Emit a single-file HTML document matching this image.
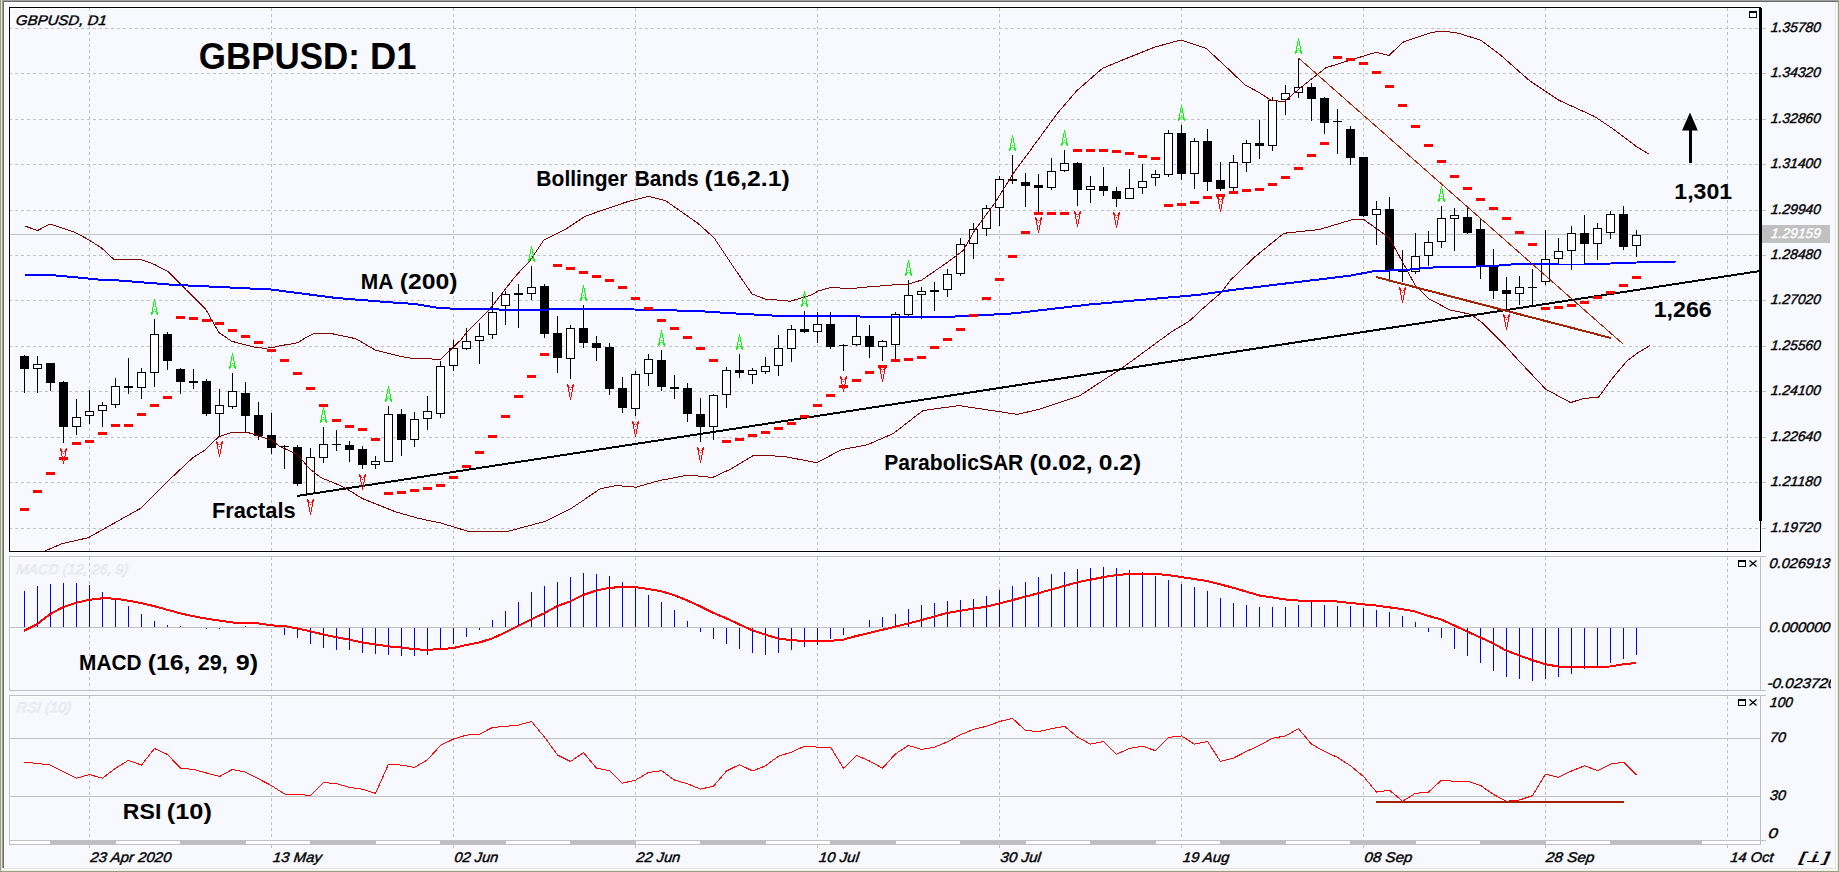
<!DOCTYPE html><html><head><meta charset="utf-8"><style>html,body{margin:0;padding:0;background:#F8F8FF;overflow:hidden}svg{display:block}</style></head><body><svg width="1839" height="872" viewBox="0 0 1839 872"><rect x="0" y="0" width="1839" height="872" fill="#F8F8FF"/><rect x="0" y="0" width="1" height="872" fill="#9D9D86"/><rect x="1" y="0" width="1" height="871" fill="#E3E3D5"/><rect x="2" y="0" width="1837" height="1" fill="#A0A0A0"/><rect x="2" y="0" width="1" height="868" fill="#A0A0A0"/><rect x="3" y="1" width="1836" height="1" fill="#696969"/><rect x="3" y="1" width="1" height="867" fill="#696969"/><rect x="4" y="2" width="1831" height="1" fill="#FFFFFF"/><rect x="4" y="2" width="1" height="866" fill="#FFFFFF"/><rect x="3" y="868" width="1833" height="1" fill="#E0E0E0"/><rect x="1835" y="2" width="1" height="867" fill="#E4E4E4"/><rect x="2" y="869" width="1835" height="1" fill="#FFFFFF"/><rect x="1836" y="2" width="1" height="868" fill="#FFFFFF"/><rect x="1" y="870" width="1837" height="1" fill="#EEEEE0"/><rect x="1837" y="2" width="1" height="869" fill="#EEEEE0"/><rect x="0" y="871" width="1839" height="1" fill="#9D9D86"/><rect x="1838" y="0" width="1" height="872" fill="#9D9D86"/><rect x="8.5" y="6.5" width="1753" height="546" fill="none" stroke="#FFFFFF"/><rect x="9.5" y="7.5" width="1751" height="544" fill="none" stroke="#000"/><rect x="10.5" y="8.5" width="1749" height="542" fill="none" stroke="#FFFFFF"/><path d="M10 28.5H1759 M10 73.5H1759 M10 119.5H1759 M10 164.5H1759 M10 210.5H1759 M10 255.5H1759 M10 300.5H1759 M10 346.5H1759 M10 391.5H1759 M10 437.5H1759 M10 482.5H1759 M10 528.5H1759" stroke="#C0C0C0" stroke-width="1" stroke-dasharray="3 3" stroke-dashoffset="1" fill="none" shape-rendering="crispEdges"/><path d="M89.5 8V551 M271.5 8V551 M453.5 8V551 M635.5 8V551 M817.5 8V551 M999.5 8V551 M1181.5 8V551 M1363.5 8V551 M1545.5 8V551 M1727.5 8V551" stroke="#C0C0C0" stroke-width="1" stroke-dasharray="3 3" fill="none" shape-rendering="crispEdges"/><path d="M1762 28.5H1766 M1762 73.5H1766 M1762 119.5H1766 M1762 164.5H1766 M1762 210.5H1766 M1762 255.5H1766 M1762 300.5H1766 M1762 346.5H1766 M1762 391.5H1766 M1762 437.5H1766 M1762 482.5H1766 M1762 528.5H1766" stroke="#C0C0C0" shape-rendering="crispEdges"/><rect x="10" y="234" width="1750" height="1" fill="#C0C0C0"/><defs><clipPath id="cm"><rect x="10" y="8" width="1750" height="543"/></clipPath><clipPath id="cd"><rect x="10" y="557" width="1750" height="133"/></clipPath><clipPath id="cr"><rect x="10" y="696" width="1750" height="144"/></clipPath><clipPath id="ca"><rect x="0" y="0" width="1831" height="872"/></clipPath></defs><g clip-path="url(#cm)"><g fill="#000" shape-rendering="crispEdges"><rect x="24" y="355" width="1" height="38"/><rect x="20" y="356" width="9" height="13"/><rect x="37" y="356" width="1" height="37"/><rect x="33" y="364" width="9" height="5"/><rect x="34" y="365" width="7" height="3" fill="#FFF"/><rect x="50" y="363" width="1" height="28"/><rect x="46" y="363" width="9" height="20"/><rect x="63" y="381" width="1" height="62"/><rect x="59" y="382" width="9" height="45"/><rect x="76" y="399" width="1" height="36"/><rect x="72" y="417" width="9" height="10"/><rect x="73" y="418" width="7" height="8" fill="#FFF"/><rect x="89" y="390" width="1" height="34"/><rect x="85" y="411" width="9" height="5"/><rect x="86" y="412" width="7" height="3" fill="#FFF"/><rect x="102" y="402" width="1" height="25"/><rect x="98" y="405" width="9" height="6"/><rect x="99" y="406" width="7" height="4" fill="#FFF"/><rect x="115" y="378" width="1" height="30"/><rect x="111" y="386" width="9" height="19"/><rect x="112" y="387" width="7" height="17" fill="#FFF"/><rect x="128" y="358" width="1" height="36"/><rect x="124" y="386" width="9" height="2"/><rect x="141" y="368" width="1" height="31"/><rect x="137" y="372" width="9" height="16"/><rect x="138" y="373" width="7" height="14" fill="#FFF"/><rect x="154" y="319" width="1" height="68"/><rect x="150" y="334" width="9" height="39"/><rect x="151" y="335" width="7" height="37" fill="#FFF"/><rect x="167" y="332" width="1" height="38"/><rect x="163" y="334" width="9" height="27"/><rect x="180" y="368" width="1" height="26"/><rect x="176" y="369" width="9" height="13"/><rect x="193" y="369" width="1" height="20"/><rect x="189" y="381" width="9" height="2"/><rect x="206" y="379" width="1" height="37"/><rect x="202" y="381" width="9" height="33"/><rect x="219" y="389" width="1" height="47"/><rect x="215" y="405" width="9" height="9"/><rect x="216" y="406" width="7" height="7" fill="#FFF"/><rect x="232" y="373" width="1" height="36"/><rect x="228" y="391" width="9" height="16"/><rect x="229" y="392" width="7" height="14" fill="#FFF"/><rect x="245" y="382" width="1" height="50"/><rect x="241" y="393" width="9" height="23"/><rect x="258" y="402" width="1" height="38"/><rect x="254" y="415" width="9" height="21"/><rect x="271" y="413" width="1" height="41"/><rect x="267" y="435" width="9" height="13"/><rect x="284" y="445" width="1" height="24"/><rect x="280" y="446" width="9" height="1"/><rect x="297" y="445" width="1" height="41"/><rect x="293" y="447" width="9" height="37"/><rect x="310" y="448" width="1" height="46"/><rect x="306" y="457" width="9" height="37"/><rect x="307" y="458" width="7" height="35" fill="#FFF"/><rect x="323" y="427" width="1" height="36"/><rect x="319" y="444" width="9" height="14"/><rect x="320" y="445" width="7" height="12" fill="#FFF"/><rect x="336" y="430" width="1" height="21"/><rect x="332" y="444" width="9" height="1"/><rect x="349" y="441" width="1" height="21"/><rect x="345" y="445" width="9" height="5"/><rect x="362" y="446" width="1" height="23"/><rect x="358" y="449" width="9" height="16"/><rect x="375" y="456" width="1" height="13"/><rect x="371" y="461" width="9" height="4"/><rect x="372" y="462" width="7" height="2" fill="#FFF"/><rect x="388" y="406" width="1" height="56"/><rect x="384" y="414" width="9" height="48"/><rect x="385" y="415" width="7" height="46" fill="#FFF"/><rect x="401" y="409" width="1" height="47"/><rect x="397" y="414" width="9" height="26"/><rect x="414" y="412" width="1" height="35"/><rect x="410" y="419" width="9" height="21"/><rect x="411" y="420" width="7" height="19" fill="#FFF"/><rect x="427" y="396" width="1" height="34"/><rect x="423" y="411" width="9" height="8"/><rect x="424" y="412" width="7" height="6" fill="#FFF"/><rect x="440" y="361" width="1" height="57"/><rect x="436" y="366" width="9" height="48"/><rect x="437" y="367" width="7" height="46" fill="#FFF"/><rect x="453" y="340" width="1" height="31"/><rect x="449" y="348" width="9" height="18"/><rect x="450" y="349" width="7" height="16" fill="#FFF"/><rect x="466" y="328" width="1" height="22"/><rect x="462" y="341" width="9" height="8"/><rect x="463" y="342" width="7" height="6" fill="#FFF"/><rect x="479" y="323" width="1" height="41"/><rect x="475" y="336" width="9" height="5"/><rect x="476" y="337" width="7" height="3" fill="#FFF"/><rect x="492" y="292" width="1" height="47"/><rect x="488" y="312" width="9" height="23"/><rect x="489" y="313" width="7" height="21" fill="#FFF"/><rect x="505" y="291" width="1" height="34"/><rect x="501" y="294" width="9" height="12"/><rect x="502" y="295" width="7" height="10" fill="#FFF"/><rect x="518" y="284" width="1" height="44"/><rect x="514" y="293" width="9" height="2"/><rect x="531" y="266" width="1" height="34"/><rect x="527" y="287" width="9" height="7"/><rect x="528" y="288" width="7" height="5" fill="#FFF"/><rect x="544" y="284" width="1" height="54"/><rect x="540" y="286" width="9" height="48"/><rect x="557" y="316" width="1" height="57"/><rect x="553" y="333" width="9" height="25"/><rect x="570" y="325" width="1" height="54"/><rect x="566" y="328" width="9" height="31"/><rect x="567" y="329" width="7" height="29" fill="#FFF"/><rect x="583" y="305" width="1" height="43"/><rect x="579" y="328" width="9" height="15"/><rect x="596" y="336" width="1" height="25"/><rect x="592" y="343" width="9" height="5"/><rect x="609" y="343" width="1" height="52"/><rect x="605" y="347" width="9" height="42"/><rect x="622" y="377" width="1" height="36"/><rect x="618" y="388" width="9" height="20"/><rect x="635" y="371" width="1" height="45"/><rect x="631" y="374" width="9" height="35"/><rect x="632" y="375" width="7" height="33" fill="#FFF"/><rect x="648" y="354" width="1" height="32"/><rect x="644" y="359" width="9" height="15"/><rect x="645" y="360" width="7" height="13" fill="#FFF"/><rect x="661" y="350" width="1" height="41"/><rect x="657" y="360" width="9" height="27"/><rect x="674" y="375" width="1" height="24"/><rect x="670" y="387" width="9" height="2"/><rect x="687" y="383" width="1" height="39"/><rect x="683" y="388" width="9" height="26"/><rect x="700" y="398" width="1" height="44"/><rect x="696" y="414" width="9" height="13"/><rect x="713" y="394" width="1" height="46"/><rect x="709" y="395" width="9" height="32"/><rect x="710" y="396" width="7" height="30" fill="#FFF"/><rect x="726" y="367" width="1" height="41"/><rect x="722" y="370" width="9" height="25"/><rect x="723" y="371" width="7" height="23" fill="#FFF"/><rect x="739" y="354" width="1" height="24"/><rect x="735" y="370" width="9" height="3"/><rect x="752" y="368" width="1" height="16"/><rect x="748" y="370" width="9" height="5"/><rect x="749" y="371" width="7" height="3" fill="#FFF"/><rect x="765" y="357" width="1" height="17"/><rect x="761" y="366" width="9" height="6"/><rect x="762" y="367" width="7" height="4" fill="#FFF"/><rect x="778" y="335" width="1" height="41"/><rect x="774" y="348" width="9" height="18"/><rect x="775" y="349" width="7" height="16" fill="#FFF"/><rect x="791" y="325" width="1" height="37"/><rect x="787" y="329" width="9" height="20"/><rect x="788" y="330" width="7" height="18" fill="#FFF"/><rect x="804" y="311" width="1" height="22"/><rect x="800" y="329" width="9" height="3"/><rect x="817" y="312" width="1" height="31"/><rect x="813" y="324" width="9" height="8"/><rect x="814" y="325" width="7" height="6" fill="#FFF"/><rect x="830" y="312" width="1" height="37"/><rect x="826" y="324" width="9" height="23"/><rect x="843" y="344" width="1" height="27"/><rect x="839" y="345" width="9" height="1"/><rect x="856" y="316" width="1" height="30"/><rect x="852" y="336" width="9" height="9"/><rect x="853" y="337" width="7" height="7" fill="#FFF"/><rect x="869" y="325" width="1" height="33"/><rect x="865" y="336" width="9" height="11"/><rect x="882" y="340" width="1" height="21"/><rect x="878" y="341" width="9" height="6"/><rect x="879" y="342" width="7" height="4" fill="#FFF"/><rect x="895" y="312" width="1" height="47"/><rect x="891" y="314" width="9" height="31"/><rect x="892" y="315" width="7" height="29" fill="#FFF"/><rect x="908" y="280" width="1" height="36"/><rect x="904" y="295" width="9" height="20"/><rect x="905" y="296" width="7" height="18" fill="#FFF"/><rect x="921" y="287" width="1" height="32"/><rect x="917" y="291" width="9" height="4"/><rect x="918" y="292" width="7" height="2" fill="#FFF"/><rect x="934" y="282" width="1" height="29"/><rect x="930" y="290" width="9" height="2"/><rect x="947" y="269" width="1" height="28"/><rect x="943" y="274" width="9" height="16"/><rect x="944" y="275" width="7" height="14" fill="#FFF"/><rect x="960" y="238" width="1" height="38"/><rect x="956" y="244" width="9" height="30"/><rect x="957" y="245" width="7" height="28" fill="#FFF"/><rect x="973" y="223" width="1" height="36"/><rect x="969" y="229" width="9" height="15"/><rect x="970" y="230" width="7" height="13" fill="#FFF"/><rect x="986" y="205" width="1" height="31"/><rect x="982" y="208" width="9" height="21"/><rect x="983" y="209" width="7" height="19" fill="#FFF"/><rect x="999" y="176" width="1" height="50"/><rect x="995" y="179" width="9" height="29"/><rect x="996" y="180" width="7" height="27" fill="#FFF"/><rect x="1012" y="155" width="1" height="29"/><rect x="1008" y="179" width="9" height="2"/><rect x="1025" y="173" width="1" height="34"/><rect x="1021" y="182" width="9" height="4"/><rect x="1038" y="174" width="1" height="38"/><rect x="1034" y="185" width="9" height="3"/><rect x="1051" y="158" width="1" height="32"/><rect x="1047" y="171" width="9" height="17"/><rect x="1048" y="172" width="7" height="15" fill="#FFF"/><rect x="1064" y="150" width="1" height="22"/><rect x="1060" y="163" width="9" height="8"/><rect x="1061" y="164" width="7" height="6" fill="#FFF"/><rect x="1077" y="162" width="1" height="44"/><rect x="1073" y="163" width="9" height="27"/><rect x="1090" y="176" width="1" height="27"/><rect x="1086" y="186" width="9" height="4"/><rect x="1087" y="187" width="7" height="2" fill="#FFF"/><rect x="1103" y="167" width="1" height="29"/><rect x="1099" y="186" width="9" height="5"/><rect x="1116" y="187" width="1" height="20"/><rect x="1112" y="191" width="9" height="8"/><rect x="1129" y="169" width="1" height="30"/><rect x="1125" y="188" width="9" height="11"/><rect x="1126" y="189" width="7" height="9" fill="#FFF"/><rect x="1142" y="164" width="1" height="30"/><rect x="1138" y="181" width="9" height="7"/><rect x="1139" y="182" width="7" height="5" fill="#FFF"/><rect x="1155" y="170" width="1" height="16"/><rect x="1151" y="174" width="9" height="4"/><rect x="1152" y="175" width="7" height="2" fill="#FFF"/><rect x="1168" y="130" width="1" height="47"/><rect x="1164" y="133" width="9" height="42"/><rect x="1165" y="134" width="7" height="40" fill="#FFF"/><rect x="1181" y="125" width="1" height="55"/><rect x="1177" y="133" width="9" height="41"/><rect x="1194" y="138" width="1" height="51"/><rect x="1190" y="141" width="9" height="33"/><rect x="1191" y="142" width="7" height="31" fill="#FFF"/><rect x="1207" y="129" width="1" height="62"/><rect x="1203" y="141" width="9" height="41"/><rect x="1220" y="162" width="1" height="29"/><rect x="1216" y="180" width="9" height="9"/><rect x="1233" y="155" width="1" height="36"/><rect x="1229" y="162" width="9" height="26"/><rect x="1230" y="163" width="7" height="24" fill="#FFF"/><rect x="1246" y="140" width="1" height="32"/><rect x="1242" y="143" width="9" height="20"/><rect x="1243" y="144" width="7" height="18" fill="#FFF"/><rect x="1259" y="120" width="1" height="39"/><rect x="1255" y="143" width="9" height="3"/><rect x="1272" y="97" width="1" height="54"/><rect x="1268" y="100" width="9" height="46"/><rect x="1269" y="101" width="7" height="44" fill="#FFF"/><rect x="1285" y="85" width="1" height="30"/><rect x="1281" y="93" width="9" height="7"/><rect x="1282" y="94" width="7" height="5" fill="#FFF"/><rect x="1298" y="58" width="1" height="40"/><rect x="1294" y="87" width="9" height="6"/><rect x="1295" y="88" width="7" height="4" fill="#FFF"/><rect x="1311" y="83" width="1" height="38"/><rect x="1307" y="87" width="9" height="12"/><rect x="1324" y="97" width="1" height="37"/><rect x="1320" y="98" width="9" height="25"/><rect x="1337" y="109" width="1" height="45"/><rect x="1333" y="121" width="9" height="1"/><rect x="1350" y="126" width="1" height="39"/><rect x="1346" y="129" width="9" height="29"/><rect x="1363" y="157" width="1" height="60"/><rect x="1359" y="157" width="9" height="59"/><rect x="1376" y="201" width="1" height="44"/><rect x="1372" y="209" width="9" height="6"/><rect x="1373" y="210" width="7" height="4" fill="#FFF"/><rect x="1389" y="197" width="1" height="82"/><rect x="1385" y="209" width="9" height="61"/><rect x="1402" y="250" width="1" height="32"/><rect x="1398" y="270" width="9" height="2"/><rect x="1415" y="233" width="1" height="41"/><rect x="1411" y="256" width="9" height="16"/><rect x="1412" y="257" width="7" height="14" fill="#FFF"/><rect x="1428" y="231" width="1" height="35"/><rect x="1424" y="242" width="9" height="14"/><rect x="1425" y="243" width="7" height="12" fill="#FFF"/><rect x="1441" y="206" width="1" height="42"/><rect x="1437" y="218" width="9" height="24"/><rect x="1438" y="219" width="7" height="22" fill="#FFF"/><rect x="1454" y="208" width="1" height="43"/><rect x="1450" y="215" width="9" height="4"/><rect x="1451" y="216" width="7" height="2" fill="#FFF"/><rect x="1467" y="208" width="1" height="26"/><rect x="1463" y="217" width="9" height="16"/><rect x="1480" y="219" width="1" height="60"/><rect x="1476" y="229" width="9" height="37"/><rect x="1493" y="249" width="1" height="50"/><rect x="1489" y="266" width="9" height="25"/><rect x="1506" y="277" width="1" height="32"/><rect x="1502" y="290" width="9" height="4"/><rect x="1519" y="276" width="1" height="29"/><rect x="1515" y="287" width="9" height="7"/><rect x="1516" y="288" width="7" height="5" fill="#FFF"/><rect x="1532" y="269" width="1" height="36"/><rect x="1528" y="287" width="9" height="1"/><rect x="1545" y="230" width="1" height="55"/><rect x="1541" y="259" width="9" height="23"/><rect x="1542" y="260" width="7" height="21" fill="#FFF"/><rect x="1558" y="238" width="1" height="25"/><rect x="1554" y="251" width="9" height="8"/><rect x="1555" y="252" width="7" height="6" fill="#FFF"/><rect x="1571" y="226" width="1" height="44"/><rect x="1567" y="233" width="9" height="18"/><rect x="1568" y="234" width="7" height="16" fill="#FFF"/><rect x="1584" y="215" width="1" height="49"/><rect x="1580" y="233" width="9" height="11"/><rect x="1597" y="223" width="1" height="37"/><rect x="1593" y="228" width="9" height="16"/><rect x="1594" y="229" width="7" height="14" fill="#FFF"/><rect x="1610" y="211" width="1" height="28"/><rect x="1606" y="214" width="9" height="19"/><rect x="1607" y="215" width="7" height="17" fill="#FFF"/><rect x="1623" y="206" width="1" height="44"/><rect x="1619" y="214" width="9" height="33"/><rect x="1636" y="230" width="1" height="27"/><rect x="1632" y="235" width="9" height="11"/><rect x="1633" y="236" width="7" height="9" fill="#FFF"/></g><path d="M24.7 226.0 L37.7 230.5 L49.8 224.0 L75.3 232.5 L88.3 239.6 L101.4 247.8 L114.4 259.9 L142.1 259.9 L153.6 264.1 L168.2 271.6 L176.4 280.0 L186.2 289.9 L196.4 300.0 L205.8 309.4 L218.8 332.5 L231.7 341.3 L255.0 347.2 L265.0 348.3 L274.5 347.2 L281.4 345.5 L294.0 343.5 L298.6 342.3 L304.9 338.0 L313.4 333.8 L329.7 333.2 L355.8 338.7 L375.4 350.1 L401.5 356.7 L413.0 358.4 L440.6 359.3 L460.8 340.0 L466.8 332.2 L489.6 309.4 L512.4 280.0 L520.0 271.2 L528.8 262.5 L543.9 240.0 L564.6 229.9 L584.2 216.8 L600.0 211.0 L610.0 207.7 L626.1 202.1 L648.3 196.3 L665.3 200.5 L697.9 223.3 L714.2 238.0 L735.5 270.0 L752.0 293.9 L765.0 299.0 L790.6 301.2 L812.1 294.7 L818.0 291.1 L831.0 287.4 L849.4 288.7 L867.5 287.0 L893.6 284.9 L906.7 284.7 L922.0 279.9 L947.4 262.4 L963.0 250.7 L975.0 229.9 L994.5 203.5 L1014.0 172.4 L1033.5 146.0 L1056.8 114.0 L1076.3 91.2 L1102.4 68.4 L1122.0 60.2 L1154.6 47.2 L1180.7 40.0 L1190.0 42.9 L1206.2 48.4 L1228.8 69.4 L1245.0 85.0 L1258.0 91.9 L1270.8 100.1 L1283.8 101.8 L1303.2 85.6 L1325.8 67.8 L1351.7 59.7 L1375.9 52.3 L1388.8 55.5 L1403.4 42.0 L1432.5 32.2 L1445.4 31.3 L1458.3 33.2 L1481.0 40.3 L1500.4 54.9 L1529.5 80.7 L1558.6 100.1 L1594.1 116.3 L1613.5 129.2 L1636.2 146.4 L1649.1 154.1" fill="none" stroke="#800000" stroke-width="1" stroke-linejoin="round" shape-rendering="crispEdges"/><path d="M24.0 558.0 L42.6 552.0 L62.2 543.6 L88.3 537.7 L114.4 523.0 L140.5 508.4 L166.6 482.3 L192.7 457.8 L205.0 450.0 L218.8 436.6 L231.7 432.4 L246.3 432.0 L255.8 435.0 L271.0 439.9 L280.0 446.5 L297.5 454.3 L308.7 468.0 L320.7 477.5 L336.3 483.9 L346.5 488.7 L362.4 498.6 L395.0 511.6 L417.8 518.2 L440.7 523.0 L470.0 531.9 L505.9 531.9 L545.1 521.4 L571.2 508.4 L590.7 495.3 L600.0 488.8 L616.3 485.5 L635.9 487.2 L658.7 480.7 L688.1 475.1 L712.6 477.4 L730.5 469.2 L753.3 455.5 L782.7 456.2 L817.0 462.7 L841.4 449.7 L867.5 444.8 L893.6 433.3 L923.0 410.5 L958.9 405.6 L991.5 410.5 L1017.6 414.4 L1040.5 408.9 L1079.6 395.8 L1122.0 368.1 L1171.0 332.2 L1190.0 320.6 L1200.0 311.0 L1221.2 292.5 L1230.6 280.0 L1254.7 257.0 L1283.8 233.3 L1319.3 229.5 L1351.7 219.8 L1363.0 219.0 L1389.0 237.6 L1402.3 261.5 L1415.3 285.5 L1428.4 298.6 L1450.0 310.0 L1470.8 314.3 L1483.3 323.7 L1502.0 342.4 L1520.7 362.7 L1545.7 389.2 L1570.6 402.6 L1583.1 398.6 L1598.7 397.0 L1611.2 379.8 L1626.8 361.1 L1639.3 351.8 L1650.2 345.5" fill="none" stroke="#800000" stroke-width="1" stroke-linejoin="round" shape-rendering="crispEdges"/><path d="M24.7 274.9 L49.2 274.9 L75.3 277.2 L103.0 280.0 L117.7 280.4 L173.1 284.8 L271.0 289.5 L336.3 298.0 L394.0 302.6 L414.6 303.9 L440.4 308.2 L466.2 309.0 L524.0 309.9 L600.0 308.7 L697.9 311.0 L730.0 313.2 L752.0 314.4 L779.4 315.9 L850.0 316.4 L893.6 316.9 L947.4 316.9 L981.7 315.2 L1014.4 313.3 L1089.4 304.5 L1200.0 294.7 L1232.0 290.0 L1350.0 275.7 L1376.1 270.7 L1402.3 270.3 L1428.4 267.6 L1470.0 266.7 L1493.8 266.0 L1519.2 263.8 L1559.4 264.5 L1584.6 264.5 L1624.0 263.0 L1649.4 262.0 L1676.0 261.5" fill="none" stroke="#0000FF" stroke-width="2" stroke-linejoin="round" shape-rendering="crispEdges"/><path d="M297 496 L1760 271" stroke="#000" stroke-width="2" fill="none" shape-rendering="crispEdges"/><path d="M1298.5 58 L1623 344" stroke="#A32200" stroke-width="1" fill="none" shape-rendering="crispEdges"/><path d="M1376 277 L1611 338" stroke="#A32200" stroke-width="2" fill="none" shape-rendering="crispEdges"/><g fill="#FF0000" shape-rendering="crispEdges"><rect x="20" y="508" width="9" height="3"/><rect x="33" y="490" width="9" height="3"/><rect x="46" y="472" width="9" height="3"/><rect x="59" y="457" width="9" height="3"/><rect x="72" y="442" width="9" height="3"/><rect x="85" y="440" width="9" height="3"/><rect x="98" y="432" width="9" height="3"/><rect x="111" y="424" width="9" height="3"/><rect x="124" y="424" width="9" height="3"/><rect x="137" y="413" width="9" height="3"/><rect x="150" y="404" width="9" height="3"/><rect x="163" y="396" width="9" height="3"/><rect x="176" y="316" width="9" height="3"/><rect x="189" y="317" width="9" height="3"/><rect x="202" y="319" width="9" height="3"/><rect x="215" y="322" width="9" height="3"/><rect x="228" y="329" width="9" height="3"/><rect x="241" y="335" width="9" height="3"/><rect x="254" y="341" width="9" height="3"/><rect x="267" y="349" width="9" height="3"/><rect x="280" y="359" width="9" height="3"/><rect x="293" y="372" width="9" height="3"/><rect x="306" y="387" width="9" height="3"/><rect x="319" y="404" width="9" height="3"/><rect x="332" y="419" width="9" height="3"/><rect x="345" y="425" width="9" height="3"/><rect x="358" y="428" width="9" height="3"/><rect x="371" y="438" width="9" height="3"/><rect x="384" y="492" width="9" height="3"/><rect x="397" y="491" width="9" height="3"/><rect x="410" y="489" width="9" height="3"/><rect x="423" y="487" width="9" height="3"/><rect x="436" y="484" width="9" height="3"/><rect x="449" y="476" width="9" height="3"/><rect x="462" y="465" width="9" height="3"/><rect x="475" y="451" width="9" height="3"/><rect x="488" y="435" width="9" height="3"/><rect x="501" y="415" width="9" height="3"/><rect x="514" y="395" width="9" height="3"/><rect x="527" y="375" width="9" height="3"/><rect x="540" y="353" width="9" height="3"/><rect x="553" y="264" width="9" height="3"/><rect x="566" y="267" width="9" height="3"/><rect x="579" y="271" width="9" height="3"/><rect x="592" y="275" width="9" height="3"/><rect x="605" y="279" width="9" height="3"/><rect x="618" y="286" width="9" height="3"/><rect x="631" y="297" width="9" height="3"/><rect x="644" y="307" width="9" height="3"/><rect x="657" y="319" width="9" height="3"/><rect x="670" y="327" width="9" height="3"/><rect x="683" y="336" width="9" height="3"/><rect x="696" y="347" width="9" height="3"/><rect x="709" y="359" width="9" height="3"/><rect x="722" y="440" width="9" height="3"/><rect x="735" y="438" width="9" height="3"/><rect x="748" y="434" width="9" height="3"/><rect x="761" y="431" width="9" height="3"/><rect x="774" y="427" width="9" height="3"/><rect x="787" y="422" width="9" height="3"/><rect x="800" y="415" width="9" height="3"/><rect x="813" y="404" width="9" height="3"/><rect x="826" y="394" width="9" height="3"/><rect x="839" y="385" width="9" height="3"/><rect x="852" y="379" width="9" height="3"/><rect x="865" y="371" width="9" height="3"/><rect x="878" y="365" width="9" height="3"/><rect x="891" y="359" width="9" height="3"/><rect x="904" y="358" width="9" height="3"/><rect x="917" y="356" width="9" height="3"/><rect x="930" y="346" width="9" height="3"/><rect x="943" y="338" width="9" height="3"/><rect x="956" y="328" width="9" height="3"/><rect x="969" y="314" width="9" height="3"/><rect x="982" y="297" width="9" height="3"/><rect x="995" y="278" width="9" height="3"/><rect x="1008" y="255" width="9" height="3"/><rect x="1021" y="231" width="9" height="3"/><rect x="1034" y="212" width="9" height="3"/><rect x="1047" y="212" width="9" height="3"/><rect x="1060" y="212" width="9" height="3"/><rect x="1073" y="149" width="9" height="3"/><rect x="1086" y="149" width="9" height="3"/><rect x="1099" y="149" width="9" height="3"/><rect x="1112" y="150" width="9" height="3"/><rect x="1125" y="152" width="9" height="3"/><rect x="1138" y="155" width="9" height="3"/><rect x="1151" y="157" width="9" height="3"/><rect x="1164" y="204" width="9" height="3"/><rect x="1177" y="203" width="9" height="3"/><rect x="1190" y="201" width="9" height="3"/><rect x="1203" y="196" width="9" height="3"/><rect x="1216" y="194" width="9" height="3"/><rect x="1229" y="191" width="9" height="3"/><rect x="1242" y="189" width="9" height="3"/><rect x="1255" y="188" width="9" height="3"/><rect x="1268" y="183" width="9" height="3"/><rect x="1281" y="176" width="9" height="3"/><rect x="1294" y="167" width="9" height="3"/><rect x="1307" y="154" width="9" height="3"/><rect x="1320" y="142" width="9" height="3"/><rect x="1333" y="56" width="9" height="3"/><rect x="1346" y="58" width="9" height="3"/><rect x="1359" y="62" width="9" height="3"/><rect x="1372" y="71" width="9" height="3"/><rect x="1385" y="85" width="9" height="3"/><rect x="1398" y="104" width="9" height="3"/><rect x="1411" y="125" width="9" height="3"/><rect x="1424" y="144" width="9" height="3"/><rect x="1437" y="160" width="9" height="3"/><rect x="1450" y="175" width="9" height="3"/><rect x="1463" y="187" width="9" height="3"/><rect x="1476" y="198" width="9" height="3"/><rect x="1489" y="207" width="9" height="3"/><rect x="1502" y="217" width="9" height="3"/><rect x="1515" y="231" width="9" height="3"/><rect x="1528" y="243" width="9" height="3"/><rect x="1541" y="307" width="9" height="3"/><rect x="1554" y="306" width="9" height="3"/><rect x="1567" y="304" width="9" height="3"/><rect x="1580" y="301" width="9" height="3"/><rect x="1593" y="296" width="9" height="3"/><rect x="1606" y="291" width="9" height="3"/><rect x="1619" y="284" width="9" height="3"/><rect x="1632" y="276" width="9" height="3"/></g><g fill="#00FF00" shape-rendering="crispEdges"><rect x="154" y="299" width="1" height="3"/><rect x="153" y="302" width="1" height="5"/><rect x="155" y="302" width="1" height="5"/><rect x="152" y="307" width="1" height="5"/><rect x="156" y="307" width="1" height="5"/><rect x="154" y="309" width="1" height="1"/><rect x="153" y="311" width="1" height="1"/><rect x="155" y="311" width="1" height="1"/><rect x="151" y="312" width="2" height="2"/><rect x="156" y="312" width="2" height="2"/><rect x="151" y="314" width="1" height="1"/><rect x="157" y="314" width="1" height="1"/><rect x="232" y="353" width="1" height="3"/><rect x="231" y="356" width="1" height="5"/><rect x="233" y="356" width="1" height="5"/><rect x="230" y="361" width="1" height="5"/><rect x="234" y="361" width="1" height="5"/><rect x="232" y="363" width="1" height="1"/><rect x="231" y="365" width="1" height="1"/><rect x="233" y="365" width="1" height="1"/><rect x="229" y="366" width="2" height="2"/><rect x="234" y="366" width="2" height="2"/><rect x="229" y="368" width="1" height="1"/><rect x="235" y="368" width="1" height="1"/><rect x="323" y="407" width="1" height="3"/><rect x="322" y="410" width="1" height="5"/><rect x="324" y="410" width="1" height="5"/><rect x="321" y="415" width="1" height="5"/><rect x="325" y="415" width="1" height="5"/><rect x="323" y="417" width="1" height="1"/><rect x="322" y="419" width="1" height="1"/><rect x="324" y="419" width="1" height="1"/><rect x="320" y="420" width="2" height="2"/><rect x="325" y="420" width="2" height="2"/><rect x="320" y="422" width="1" height="1"/><rect x="326" y="422" width="1" height="1"/><rect x="388" y="386" width="1" height="3"/><rect x="387" y="389" width="1" height="5"/><rect x="389" y="389" width="1" height="5"/><rect x="386" y="394" width="1" height="5"/><rect x="390" y="394" width="1" height="5"/><rect x="388" y="396" width="1" height="1"/><rect x="387" y="398" width="1" height="1"/><rect x="389" y="398" width="1" height="1"/><rect x="385" y="399" width="2" height="2"/><rect x="390" y="399" width="2" height="2"/><rect x="385" y="401" width="1" height="1"/><rect x="391" y="401" width="1" height="1"/><rect x="531" y="246" width="1" height="3"/><rect x="530" y="249" width="1" height="5"/><rect x="532" y="249" width="1" height="5"/><rect x="529" y="254" width="1" height="5"/><rect x="533" y="254" width="1" height="5"/><rect x="531" y="256" width="1" height="1"/><rect x="530" y="258" width="1" height="1"/><rect x="532" y="258" width="1" height="1"/><rect x="528" y="259" width="2" height="2"/><rect x="533" y="259" width="2" height="2"/><rect x="528" y="261" width="1" height="1"/><rect x="534" y="261" width="1" height="1"/><rect x="583" y="285" width="1" height="3"/><rect x="582" y="288" width="1" height="5"/><rect x="584" y="288" width="1" height="5"/><rect x="581" y="293" width="1" height="5"/><rect x="585" y="293" width="1" height="5"/><rect x="583" y="295" width="1" height="1"/><rect x="582" y="297" width="1" height="1"/><rect x="584" y="297" width="1" height="1"/><rect x="580" y="298" width="2" height="2"/><rect x="585" y="298" width="2" height="2"/><rect x="580" y="300" width="1" height="1"/><rect x="586" y="300" width="1" height="1"/><rect x="661" y="330" width="1" height="3"/><rect x="660" y="333" width="1" height="5"/><rect x="662" y="333" width="1" height="5"/><rect x="659" y="338" width="1" height="5"/><rect x="663" y="338" width="1" height="5"/><rect x="661" y="340" width="1" height="1"/><rect x="660" y="342" width="1" height="1"/><rect x="662" y="342" width="1" height="1"/><rect x="658" y="343" width="2" height="2"/><rect x="663" y="343" width="2" height="2"/><rect x="658" y="345" width="1" height="1"/><rect x="664" y="345" width="1" height="1"/><rect x="739" y="334" width="1" height="3"/><rect x="738" y="337" width="1" height="5"/><rect x="740" y="337" width="1" height="5"/><rect x="737" y="342" width="1" height="5"/><rect x="741" y="342" width="1" height="5"/><rect x="739" y="344" width="1" height="1"/><rect x="738" y="346" width="1" height="1"/><rect x="740" y="346" width="1" height="1"/><rect x="736" y="347" width="2" height="2"/><rect x="741" y="347" width="2" height="2"/><rect x="736" y="349" width="1" height="1"/><rect x="742" y="349" width="1" height="1"/><rect x="804" y="291" width="1" height="3"/><rect x="803" y="294" width="1" height="5"/><rect x="805" y="294" width="1" height="5"/><rect x="802" y="299" width="1" height="5"/><rect x="806" y="299" width="1" height="5"/><rect x="804" y="301" width="1" height="1"/><rect x="803" y="303" width="1" height="1"/><rect x="805" y="303" width="1" height="1"/><rect x="801" y="304" width="2" height="2"/><rect x="806" y="304" width="2" height="2"/><rect x="801" y="306" width="1" height="1"/><rect x="807" y="306" width="1" height="1"/><rect x="908" y="260" width="1" height="3"/><rect x="907" y="263" width="1" height="5"/><rect x="909" y="263" width="1" height="5"/><rect x="906" y="268" width="1" height="5"/><rect x="910" y="268" width="1" height="5"/><rect x="908" y="270" width="1" height="1"/><rect x="907" y="272" width="1" height="1"/><rect x="909" y="272" width="1" height="1"/><rect x="905" y="273" width="2" height="2"/><rect x="910" y="273" width="2" height="2"/><rect x="905" y="275" width="1" height="1"/><rect x="911" y="275" width="1" height="1"/><rect x="1012" y="135" width="1" height="3"/><rect x="1011" y="138" width="1" height="5"/><rect x="1013" y="138" width="1" height="5"/><rect x="1010" y="143" width="1" height="5"/><rect x="1014" y="143" width="1" height="5"/><rect x="1012" y="145" width="1" height="1"/><rect x="1011" y="147" width="1" height="1"/><rect x="1013" y="147" width="1" height="1"/><rect x="1009" y="148" width="2" height="2"/><rect x="1014" y="148" width="2" height="2"/><rect x="1009" y="150" width="1" height="1"/><rect x="1015" y="150" width="1" height="1"/><rect x="1064" y="130" width="1" height="3"/><rect x="1063" y="133" width="1" height="5"/><rect x="1065" y="133" width="1" height="5"/><rect x="1062" y="138" width="1" height="5"/><rect x="1066" y="138" width="1" height="5"/><rect x="1064" y="140" width="1" height="1"/><rect x="1063" y="142" width="1" height="1"/><rect x="1065" y="142" width="1" height="1"/><rect x="1061" y="143" width="2" height="2"/><rect x="1066" y="143" width="2" height="2"/><rect x="1061" y="145" width="1" height="1"/><rect x="1067" y="145" width="1" height="1"/><rect x="1181" y="105" width="1" height="3"/><rect x="1180" y="108" width="1" height="5"/><rect x="1182" y="108" width="1" height="5"/><rect x="1179" y="113" width="1" height="5"/><rect x="1183" y="113" width="1" height="5"/><rect x="1181" y="115" width="1" height="1"/><rect x="1180" y="117" width="1" height="1"/><rect x="1182" y="117" width="1" height="1"/><rect x="1178" y="118" width="2" height="2"/><rect x="1183" y="118" width="2" height="2"/><rect x="1178" y="120" width="1" height="1"/><rect x="1184" y="120" width="1" height="1"/><rect x="1298" y="38" width="1" height="3"/><rect x="1297" y="41" width="1" height="5"/><rect x="1299" y="41" width="1" height="5"/><rect x="1296" y="46" width="1" height="5"/><rect x="1300" y="46" width="1" height="5"/><rect x="1298" y="48" width="1" height="1"/><rect x="1297" y="50" width="1" height="1"/><rect x="1299" y="50" width="1" height="1"/><rect x="1295" y="51" width="2" height="2"/><rect x="1300" y="51" width="2" height="2"/><rect x="1295" y="53" width="1" height="1"/><rect x="1301" y="53" width="1" height="1"/><rect x="1441" y="186" width="1" height="3"/><rect x="1440" y="189" width="1" height="5"/><rect x="1442" y="189" width="1" height="5"/><rect x="1439" y="194" width="1" height="5"/><rect x="1443" y="194" width="1" height="5"/><rect x="1441" y="196" width="1" height="1"/><rect x="1440" y="198" width="1" height="1"/><rect x="1442" y="198" width="1" height="1"/><rect x="1438" y="199" width="2" height="2"/><rect x="1443" y="199" width="2" height="2"/><rect x="1438" y="201" width="1" height="1"/><rect x="1444" y="201" width="1" height="1"/></g><g fill="#FF0000" shape-rendering="crispEdges"><rect x="60" y="448" width="1" height="1"/><rect x="66" y="448" width="1" height="1"/><rect x="60" y="449" width="2" height="2"/><rect x="65" y="449" width="2" height="2"/><rect x="62" y="451" width="1" height="1"/><rect x="64" y="451" width="1" height="1"/><rect x="61" y="451" width="1" height="5"/><rect x="65" y="451" width="1" height="5"/><rect x="63" y="453" width="1" height="1"/><rect x="62" y="456" width="1" height="5"/><rect x="64" y="456" width="1" height="5"/><rect x="63" y="461" width="1" height="3"/><rect x="216" y="441" width="1" height="1"/><rect x="222" y="441" width="1" height="1"/><rect x="216" y="442" width="2" height="2"/><rect x="221" y="442" width="2" height="2"/><rect x="218" y="444" width="1" height="1"/><rect x="220" y="444" width="1" height="1"/><rect x="217" y="444" width="1" height="5"/><rect x="221" y="444" width="1" height="5"/><rect x="219" y="446" width="1" height="1"/><rect x="218" y="449" width="1" height="5"/><rect x="220" y="449" width="1" height="5"/><rect x="219" y="454" width="1" height="3"/><rect x="307" y="499" width="1" height="1"/><rect x="313" y="499" width="1" height="1"/><rect x="307" y="500" width="2" height="2"/><rect x="312" y="500" width="2" height="2"/><rect x="309" y="502" width="1" height="1"/><rect x="311" y="502" width="1" height="1"/><rect x="308" y="502" width="1" height="5"/><rect x="312" y="502" width="1" height="5"/><rect x="310" y="504" width="1" height="1"/><rect x="309" y="507" width="1" height="5"/><rect x="311" y="507" width="1" height="5"/><rect x="310" y="512" width="1" height="3"/><rect x="359" y="474" width="1" height="1"/><rect x="365" y="474" width="1" height="1"/><rect x="359" y="475" width="2" height="2"/><rect x="364" y="475" width="2" height="2"/><rect x="361" y="477" width="1" height="1"/><rect x="363" y="477" width="1" height="1"/><rect x="360" y="477" width="1" height="5"/><rect x="364" y="477" width="1" height="5"/><rect x="362" y="479" width="1" height="1"/><rect x="361" y="482" width="1" height="5"/><rect x="363" y="482" width="1" height="5"/><rect x="362" y="487" width="1" height="3"/><rect x="567" y="384" width="1" height="1"/><rect x="573" y="384" width="1" height="1"/><rect x="567" y="385" width="2" height="2"/><rect x="572" y="385" width="2" height="2"/><rect x="569" y="387" width="1" height="1"/><rect x="571" y="387" width="1" height="1"/><rect x="568" y="387" width="1" height="5"/><rect x="572" y="387" width="1" height="5"/><rect x="570" y="389" width="1" height="1"/><rect x="569" y="392" width="1" height="5"/><rect x="571" y="392" width="1" height="5"/><rect x="570" y="397" width="1" height="3"/><rect x="632" y="421" width="1" height="1"/><rect x="638" y="421" width="1" height="1"/><rect x="632" y="422" width="2" height="2"/><rect x="637" y="422" width="2" height="2"/><rect x="634" y="424" width="1" height="1"/><rect x="636" y="424" width="1" height="1"/><rect x="633" y="424" width="1" height="5"/><rect x="637" y="424" width="1" height="5"/><rect x="635" y="426" width="1" height="1"/><rect x="634" y="429" width="1" height="5"/><rect x="636" y="429" width="1" height="5"/><rect x="635" y="434" width="1" height="3"/><rect x="697" y="447" width="1" height="1"/><rect x="703" y="447" width="1" height="1"/><rect x="697" y="448" width="2" height="2"/><rect x="702" y="448" width="2" height="2"/><rect x="699" y="450" width="1" height="1"/><rect x="701" y="450" width="1" height="1"/><rect x="698" y="450" width="1" height="5"/><rect x="702" y="450" width="1" height="5"/><rect x="700" y="452" width="1" height="1"/><rect x="699" y="455" width="1" height="5"/><rect x="701" y="455" width="1" height="5"/><rect x="700" y="460" width="1" height="3"/><rect x="840" y="376" width="1" height="1"/><rect x="846" y="376" width="1" height="1"/><rect x="840" y="377" width="2" height="2"/><rect x="845" y="377" width="2" height="2"/><rect x="842" y="379" width="1" height="1"/><rect x="844" y="379" width="1" height="1"/><rect x="841" y="379" width="1" height="5"/><rect x="845" y="379" width="1" height="5"/><rect x="843" y="381" width="1" height="1"/><rect x="842" y="384" width="1" height="5"/><rect x="844" y="384" width="1" height="5"/><rect x="843" y="389" width="1" height="3"/><rect x="879" y="366" width="1" height="1"/><rect x="885" y="366" width="1" height="1"/><rect x="879" y="367" width="2" height="2"/><rect x="884" y="367" width="2" height="2"/><rect x="881" y="369" width="1" height="1"/><rect x="883" y="369" width="1" height="1"/><rect x="880" y="369" width="1" height="5"/><rect x="884" y="369" width="1" height="5"/><rect x="882" y="371" width="1" height="1"/><rect x="881" y="374" width="1" height="5"/><rect x="883" y="374" width="1" height="5"/><rect x="882" y="379" width="1" height="3"/><rect x="1035" y="217" width="1" height="1"/><rect x="1041" y="217" width="1" height="1"/><rect x="1035" y="218" width="2" height="2"/><rect x="1040" y="218" width="2" height="2"/><rect x="1037" y="220" width="1" height="1"/><rect x="1039" y="220" width="1" height="1"/><rect x="1036" y="220" width="1" height="5"/><rect x="1040" y="220" width="1" height="5"/><rect x="1038" y="222" width="1" height="1"/><rect x="1037" y="225" width="1" height="5"/><rect x="1039" y="225" width="1" height="5"/><rect x="1038" y="230" width="1" height="3"/><rect x="1074" y="211" width="1" height="1"/><rect x="1080" y="211" width="1" height="1"/><rect x="1074" y="212" width="2" height="2"/><rect x="1079" y="212" width="2" height="2"/><rect x="1076" y="214" width="1" height="1"/><rect x="1078" y="214" width="1" height="1"/><rect x="1075" y="214" width="1" height="5"/><rect x="1079" y="214" width="1" height="5"/><rect x="1077" y="216" width="1" height="1"/><rect x="1076" y="219" width="1" height="5"/><rect x="1078" y="219" width="1" height="5"/><rect x="1077" y="224" width="1" height="3"/><rect x="1113" y="212" width="1" height="1"/><rect x="1119" y="212" width="1" height="1"/><rect x="1113" y="213" width="2" height="2"/><rect x="1118" y="213" width="2" height="2"/><rect x="1115" y="215" width="1" height="1"/><rect x="1117" y="215" width="1" height="1"/><rect x="1114" y="215" width="1" height="5"/><rect x="1118" y="215" width="1" height="5"/><rect x="1116" y="217" width="1" height="1"/><rect x="1115" y="220" width="1" height="5"/><rect x="1117" y="220" width="1" height="5"/><rect x="1116" y="225" width="1" height="3"/><rect x="1217" y="196" width="1" height="1"/><rect x="1223" y="196" width="1" height="1"/><rect x="1217" y="197" width="2" height="2"/><rect x="1222" y="197" width="2" height="2"/><rect x="1219" y="199" width="1" height="1"/><rect x="1221" y="199" width="1" height="1"/><rect x="1218" y="199" width="1" height="5"/><rect x="1222" y="199" width="1" height="5"/><rect x="1220" y="201" width="1" height="1"/><rect x="1219" y="204" width="1" height="5"/><rect x="1221" y="204" width="1" height="5"/><rect x="1220" y="209" width="1" height="3"/><rect x="1399" y="287" width="1" height="1"/><rect x="1405" y="287" width="1" height="1"/><rect x="1399" y="288" width="2" height="2"/><rect x="1404" y="288" width="2" height="2"/><rect x="1401" y="290" width="1" height="1"/><rect x="1403" y="290" width="1" height="1"/><rect x="1400" y="290" width="1" height="5"/><rect x="1404" y="290" width="1" height="5"/><rect x="1402" y="292" width="1" height="1"/><rect x="1401" y="295" width="1" height="5"/><rect x="1403" y="295" width="1" height="5"/><rect x="1402" y="300" width="1" height="3"/><rect x="1503" y="314" width="1" height="1"/><rect x="1509" y="314" width="1" height="1"/><rect x="1503" y="315" width="2" height="2"/><rect x="1508" y="315" width="2" height="2"/><rect x="1505" y="317" width="1" height="1"/><rect x="1507" y="317" width="1" height="1"/><rect x="1504" y="317" width="1" height="5"/><rect x="1508" y="317" width="1" height="5"/><rect x="1506" y="319" width="1" height="1"/><rect x="1505" y="322" width="1" height="5"/><rect x="1507" y="322" width="1" height="5"/><rect x="1506" y="327" width="1" height="3"/></g></g><rect x="1759" y="8" width="3" height="513" fill="#000"/><rect x="1749.5" y="11.5" width="7" height="6" fill="#FFF" stroke="#000"/><rect x="1749" y="11" width="8" height="2" fill="#000"/><text x="15.5" y="25" fill="#000" stroke="#000" stroke-width="0.4" transform="translate(0 25) skewX(-6) translate(0 -25)" style="font-family:'Liberation Sans',sans-serif;font-style:italic;font-size:14px" textLength="91" lengthAdjust="spacingAndGlyphs">GBPUSD, D1</text><text x="198.83" y="68.7" style="font-family:'Liberation Sans',sans-serif;font-weight:bold;font-size:36px" textLength="161.07" lengthAdjust="spacingAndGlyphs">GBPUSD:</text><text x="369.98" y="68.7" style="font-family:'Liberation Sans',sans-serif;font-weight:bold;font-size:36px" textLength="46.44" lengthAdjust="spacingAndGlyphs">D1</text><text x="536.37" y="185.7" style="font-family:'Liberation Sans',sans-serif;font-weight:bold;font-size:22.5px" textLength="91.11" lengthAdjust="spacingAndGlyphs">Bollinger</text><text x="634.77" y="185.7" style="font-family:'Liberation Sans',sans-serif;font-weight:bold;font-size:22.5px" textLength="63.80" lengthAdjust="spacingAndGlyphs">Bands</text><text x="704.40" y="185.7" style="font-family:'Liberation Sans',sans-serif;font-weight:bold;font-size:22.5px" textLength="85.34" lengthAdjust="spacingAndGlyphs">(16,2.1)</text><text x="360.77" y="288.7" style="font-family:'Liberation Sans',sans-serif;font-weight:bold;font-size:22.5px" textLength="32.56" lengthAdjust="spacingAndGlyphs">MA</text><text x="399.80" y="288.7" style="font-family:'Liberation Sans',sans-serif;font-weight:bold;font-size:22.5px" textLength="57.74" lengthAdjust="spacingAndGlyphs">(200)</text><text x="211.93" y="517.8" style="font-family:'Liberation Sans',sans-serif;font-weight:bold;font-size:22.5px" textLength="83.67" lengthAdjust="spacingAndGlyphs">Fractals</text><text x="884.16" y="470" style="font-family:'Liberation Sans',sans-serif;font-weight:bold;font-size:22.5px" textLength="139.17" lengthAdjust="spacingAndGlyphs">ParabolicSAR</text><text x="1029.40" y="470" style="font-family:'Liberation Sans',sans-serif;font-weight:bold;font-size:22.5px" textLength="63.38" lengthAdjust="spacingAndGlyphs">(0.02,</text><text x="1098.80" y="470" style="font-family:'Liberation Sans',sans-serif;font-weight:bold;font-size:22.5px" textLength="42.34" lengthAdjust="spacingAndGlyphs">0.2)</text><text x="1674.37" y="198.6" style="font-family:'Liberation Sans',sans-serif;font-weight:bold;font-size:22.5px" textLength="57.75" lengthAdjust="spacingAndGlyphs">1,301</text><text x="1653.77" y="316.75" style="font-family:'Liberation Sans',sans-serif;font-weight:bold;font-size:22.5px" textLength="57.86" lengthAdjust="spacingAndGlyphs">1,266</text><path d="M1690 112.5 L1697.8 130.5 L1682 130.5 Z" fill="#000"/><rect x="1689" y="130" width="3" height="33" fill="#000"/><text x="1770.5" y="32" fill="#000" stroke="#000" stroke-width="0.4" transform="translate(0 32) skewX(-6) translate(0 -32)" style="font-family:'Liberation Sans',sans-serif;font-style:italic;font-size:14px" textLength="50" lengthAdjust="spacingAndGlyphs">1.35780</text><text x="1770.5" y="77" fill="#000" stroke="#000" stroke-width="0.4" transform="translate(0 77) skewX(-6) translate(0 -77)" style="font-family:'Liberation Sans',sans-serif;font-style:italic;font-size:14px" textLength="50" lengthAdjust="spacingAndGlyphs">1.34320</text><text x="1770.5" y="123" fill="#000" stroke="#000" stroke-width="0.4" transform="translate(0 123) skewX(-6) translate(0 -123)" style="font-family:'Liberation Sans',sans-serif;font-style:italic;font-size:14px" textLength="50" lengthAdjust="spacingAndGlyphs">1.32860</text><text x="1770.5" y="168" fill="#000" stroke="#000" stroke-width="0.4" transform="translate(0 168) skewX(-6) translate(0 -168)" style="font-family:'Liberation Sans',sans-serif;font-style:italic;font-size:14px" textLength="50" lengthAdjust="spacingAndGlyphs">1.31400</text><text x="1770.5" y="214" fill="#000" stroke="#000" stroke-width="0.4" transform="translate(0 214) skewX(-6) translate(0 -214)" style="font-family:'Liberation Sans',sans-serif;font-style:italic;font-size:14px" textLength="50" lengthAdjust="spacingAndGlyphs">1.29940</text><text x="1770.5" y="259" fill="#000" stroke="#000" stroke-width="0.4" transform="translate(0 259) skewX(-6) translate(0 -259)" style="font-family:'Liberation Sans',sans-serif;font-style:italic;font-size:14px" textLength="50" lengthAdjust="spacingAndGlyphs">1.28480</text><text x="1770.5" y="304" fill="#000" stroke="#000" stroke-width="0.4" transform="translate(0 304) skewX(-6) translate(0 -304)" style="font-family:'Liberation Sans',sans-serif;font-style:italic;font-size:14px" textLength="50" lengthAdjust="spacingAndGlyphs">1.27020</text><text x="1770.5" y="350" fill="#000" stroke="#000" stroke-width="0.4" transform="translate(0 350) skewX(-6) translate(0 -350)" style="font-family:'Liberation Sans',sans-serif;font-style:italic;font-size:14px" textLength="50" lengthAdjust="spacingAndGlyphs">1.25560</text><text x="1770.5" y="395" fill="#000" stroke="#000" stroke-width="0.4" transform="translate(0 395) skewX(-6) translate(0 -395)" style="font-family:'Liberation Sans',sans-serif;font-style:italic;font-size:14px" textLength="50" lengthAdjust="spacingAndGlyphs">1.24100</text><text x="1770.5" y="441" fill="#000" stroke="#000" stroke-width="0.4" transform="translate(0 441) skewX(-6) translate(0 -441)" style="font-family:'Liberation Sans',sans-serif;font-style:italic;font-size:14px" textLength="50" lengthAdjust="spacingAndGlyphs">1.22640</text><text x="1770.5" y="486" fill="#000" stroke="#000" stroke-width="0.4" transform="translate(0 486) skewX(-6) translate(0 -486)" style="font-family:'Liberation Sans',sans-serif;font-style:italic;font-size:14px" textLength="50" lengthAdjust="spacingAndGlyphs">1.21180</text><text x="1770.5" y="532" fill="#000" stroke="#000" stroke-width="0.4" transform="translate(0 532) skewX(-6) translate(0 -532)" style="font-family:'Liberation Sans',sans-serif;font-style:italic;font-size:14px" textLength="50" lengthAdjust="spacingAndGlyphs">1.19720</text><rect x="1762" y="225" width="68" height="18" fill="#C0C0C0"/><text x="1770.5" y="238.5" fill="#FFFFFF" stroke="#FFFFFF" stroke-width="0.4" transform="translate(0 238.5) skewX(-6) translate(0 -238.5)" style="font-family:'Liberation Sans',sans-serif;font-style:italic;font-size:14px" textLength="50" lengthAdjust="spacingAndGlyphs">1.29159</text><rect x="9" y="556" width="1757" height="1" fill="#C0C0C0"/><rect x="9" y="556" width="1" height="135" fill="#C0C0C0"/><rect x="1760" y="556" width="1" height="135" fill="#C0C0C0"/><rect x="9" y="690" width="1757" height="1" fill="#C0C0C0"/><rect x="10" y="557" width="1" height="133" fill="#FFF"/><rect x="10" y="557" width="1750" height="1" fill="#FFF"/><path d="M89.5 557V690 M271.5 557V690 M453.5 557V690 M635.5 557V690 M817.5 557V690 M999.5 557V690 M1181.5 557V690 M1363.5 557V690 M1545.5 557V690 M1727.5 557V690" stroke="#C0C0C0" stroke-dasharray="3 3" fill="none" shape-rendering="crispEdges"/><rect x="10" y="627" width="1750" height="1" fill="#C0C0C0"/><g clip-path="url(#cd)"><g fill="#0000FF" shape-rendering="crispEdges"><rect x="24" y="591" width="1" height="36"/><rect x="37" y="586" width="1" height="41"/><rect x="50" y="584" width="1" height="43"/><rect x="63" y="583" width="1" height="44"/><rect x="76" y="583" width="1" height="44"/><rect x="89" y="585" width="1" height="42"/><rect x="102" y="592" width="1" height="35"/><rect x="115" y="599" width="1" height="28"/><rect x="128" y="606" width="1" height="21"/><rect x="141" y="614" width="1" height="13"/><rect x="154" y="621" width="1" height="6"/><rect x="167" y="625" width="1" height="2"/><rect x="180" y="626" width="1" height="1"/><rect x="206" y="628" width="1" height="1"/><rect x="219" y="628" width="1" height="1"/><rect x="245" y="626" width="1" height="1"/><rect x="284" y="628" width="1" height="7"/><rect x="297" y="628" width="1" height="10"/><rect x="310" y="628" width="1" height="16"/><rect x="323" y="628" width="1" height="20"/><rect x="336" y="628" width="1" height="22"/><rect x="349" y="628" width="1" height="22"/><rect x="362" y="628" width="1" height="25"/><rect x="375" y="628" width="1" height="26"/><rect x="388" y="628" width="1" height="27"/><rect x="401" y="628" width="1" height="28"/><rect x="414" y="628" width="1" height="28"/><rect x="427" y="628" width="1" height="27"/><rect x="440" y="628" width="1" height="21"/><rect x="453" y="628" width="1" height="16"/><rect x="466" y="628" width="1" height="9"/><rect x="479" y="628" width="1" height="2"/><rect x="492" y="620" width="1" height="7"/><rect x="505" y="611" width="1" height="16"/><rect x="518" y="602" width="1" height="25"/><rect x="531" y="592" width="1" height="35"/><rect x="544" y="586" width="1" height="41"/><rect x="557" y="582" width="1" height="45"/><rect x="570" y="577" width="1" height="50"/><rect x="583" y="573" width="1" height="54"/><rect x="596" y="574" width="1" height="53"/><rect x="609" y="576" width="1" height="51"/><rect x="622" y="582" width="1" height="45"/><rect x="635" y="588" width="1" height="39"/><rect x="648" y="595" width="1" height="32"/><rect x="661" y="602" width="1" height="25"/><rect x="674" y="610" width="1" height="17"/><rect x="687" y="621" width="1" height="6"/><rect x="700" y="628" width="1" height="4"/><rect x="713" y="628" width="1" height="11"/><rect x="726" y="628" width="1" height="16"/><rect x="739" y="628" width="1" height="21"/><rect x="752" y="628" width="1" height="25"/><rect x="765" y="628" width="1" height="27"/><rect x="778" y="628" width="1" height="25"/><rect x="791" y="628" width="1" height="22"/><rect x="804" y="628" width="1" height="19"/><rect x="817" y="628" width="1" height="17"/><rect x="830" y="628" width="1" height="11"/><rect x="843" y="628" width="1" height="7"/><rect x="869" y="620" width="1" height="7"/><rect x="882" y="617" width="1" height="10"/><rect x="895" y="614" width="1" height="13"/><rect x="908" y="609" width="1" height="18"/><rect x="921" y="605" width="1" height="22"/><rect x="934" y="603" width="1" height="24"/><rect x="947" y="601" width="1" height="26"/><rect x="960" y="600" width="1" height="27"/><rect x="973" y="599" width="1" height="28"/><rect x="986" y="596" width="1" height="31"/><rect x="999" y="590" width="1" height="37"/><rect x="1012" y="586" width="1" height="41"/><rect x="1025" y="582" width="1" height="45"/><rect x="1038" y="577" width="1" height="50"/><rect x="1051" y="574" width="1" height="53"/><rect x="1064" y="572" width="1" height="55"/><rect x="1077" y="569" width="1" height="58"/><rect x="1090" y="568" width="1" height="59"/><rect x="1103" y="567" width="1" height="60"/><rect x="1116" y="568" width="1" height="59"/><rect x="1129" y="570" width="1" height="57"/><rect x="1142" y="572" width="1" height="55"/><rect x="1155" y="576" width="1" height="51"/><rect x="1168" y="580" width="1" height="47"/><rect x="1181" y="584" width="1" height="43"/><rect x="1194" y="587" width="1" height="40"/><rect x="1207" y="591" width="1" height="36"/><rect x="1220" y="598" width="1" height="29"/><rect x="1233" y="603" width="1" height="24"/><rect x="1246" y="605" width="1" height="22"/><rect x="1259" y="607" width="1" height="20"/><rect x="1272" y="607" width="1" height="20"/><rect x="1285" y="607" width="1" height="20"/><rect x="1298" y="605" width="1" height="22"/><rect x="1311" y="602" width="1" height="25"/><rect x="1324" y="605" width="1" height="22"/><rect x="1337" y="606" width="1" height="21"/><rect x="1350" y="606" width="1" height="21"/><rect x="1363" y="608" width="1" height="19"/><rect x="1376" y="610" width="1" height="17"/><rect x="1389" y="612" width="1" height="15"/><rect x="1402" y="616" width="1" height="11"/><rect x="1415" y="622" width="1" height="5"/><rect x="1428" y="628" width="1" height="4"/><rect x="1441" y="628" width="1" height="10"/><rect x="1454" y="628" width="1" height="21"/><rect x="1467" y="628" width="1" height="28"/><rect x="1480" y="628" width="1" height="35"/><rect x="1493" y="628" width="1" height="43"/><rect x="1506" y="628" width="1" height="49"/><rect x="1519" y="628" width="1" height="51"/><rect x="1532" y="628" width="1" height="53"/><rect x="1545" y="628" width="1" height="51"/><rect x="1558" y="628" width="1" height="49"/><rect x="1571" y="628" width="1" height="46"/><rect x="1584" y="628" width="1" height="41"/><rect x="1597" y="628" width="1" height="39"/><rect x="1610" y="628" width="1" height="35"/><rect x="1623" y="628" width="1" height="31"/><rect x="1636" y="628" width="1" height="27"/></g><path d="M23.9 630.9 L37.0 624.2 L50.2 614.1 L63.3 607.0 L76.3 602.7 L89.4 599.8 L102.3 598.3 L115.3 598.6 L128.4 600.7 L141.3 603.1 L154.5 606.2 L167.4 609.8 L180.6 613.4 L193.5 616.3 L206.7 618.7 L219.6 620.6 L232.7 622.5 L245.6 623.0 L258.8 623.5 L271.7 625.4 L284.6 626.1 L297.8 628.5 L310.7 631.4 L323.6 634.5 L336.8 637.3 L349.7 639.7 L362.9 642.6 L375.8 644.5 L388.7 646.4 L401.9 647.6 L414.8 649.3 L427.7 649.8 L440.9 649.0 L453.0 648.1 L466.0 645.0 L479.0 642.6 L492.0 638.5 L505.0 632.6 L518.0 626.1 L531.0 619.4 L544.0 613.4 L557.0 606.2 L570.0 601.5 L583.0 595.0 L596.0 590.7 L609.0 587.8 L622.0 587.1 L635.0 587.1 L648.0 589.0 L661.0 591.2 L674.0 595.0 L687.0 600.3 L700.0 606.2 L713.0 612.7 L726.0 618.2 L739.0 624.2 L752.0 630.2 L765.0 634.5 L778.0 638.5 L791.0 640.2 L804.0 640.9 L817.0 640.9 L830.0 640.9 L843.0 639.7 L856.0 636.1 L869.0 633.0 L895.6 626.6 L921.4 620.1 L947.5 612.9 L973.6 608.6 L986.5 606.7 L999.4 603.4 L1025.5 596.7 L1051.6 589.5 L1077.4 582.3 L1103.5 577.1 L1116.4 575.1 L1129.6 573.9 L1155.4 573.9 L1168.6 575.1 L1181.5 577.1 L1207.6 581.1 L1233.4 587.8 L1259.5 595.5 L1285.6 599.5 L1300.0 600.7 L1337.1 601.5 L1362.9 604.3 L1376.1 605.5 L1401.9 609.1 L1415.1 611.5 L1428.0 615.8 L1440.9 619.4 L1454.1 625.4 L1467.0 631.4 L1479.9 637.3 L1493.1 643.3 L1506.0 650.5 L1518.9 655.3 L1532.1 660.1 L1545.0 664.1 L1557.9 666.5 L1571.1 666.5 L1584.0 666.8 L1596.9 666.8 L1610.0 666.5 L1623.0 664.4 L1636.1 662.9" fill="none" stroke="#FF0000" stroke-width="2" stroke-linejoin="round" shape-rendering="crispEdges"/></g><text x="16" y="574" fill="#FFFFFF" stroke="#E2E2EA" stroke-width="0.6" transform="translate(0 574) skewX(-6) translate(0 -574)" style="font-family:'Liberation Sans',sans-serif;font-style:italic;font-size:14px" textLength="112" lengthAdjust="spacingAndGlyphs">MACD (12, 26, 9)</text><text x="79.08" y="669.8" style="font-family:'Liberation Sans',sans-serif;font-weight:bold;font-size:22.5px" textLength="62.35" lengthAdjust="spacingAndGlyphs">MACD</text><text x="147.70" y="669.8" style="font-family:'Liberation Sans',sans-serif;font-weight:bold;font-size:22.5px" textLength="42.78" lengthAdjust="spacingAndGlyphs">(16,</text><text x="197.80" y="669.8" style="font-family:'Liberation Sans',sans-serif;font-weight:bold;font-size:22.5px" textLength="30.00" lengthAdjust="spacingAndGlyphs">29,</text><text x="235.80" y="669.8" style="font-family:'Liberation Sans',sans-serif;font-weight:bold;font-size:22.5px" textLength="22.35" lengthAdjust="spacingAndGlyphs">9)</text><rect x="1738.5" y="560.5" width="7" height="6" fill="none" stroke="#000"/><rect x="1738" y="560" width="8" height="2" fill="#000"/><path d="M1749.5 560.5 L1756.5 566.5 M1756.5 560.5 L1749.5 566.5" stroke="#000" stroke-width="1.3"/><g clip-path="url(#ca)"><text x="1769" y="568" fill="#000" stroke="#000" stroke-width="0.4" transform="translate(0 568) skewX(-6) translate(0 -568)" style="font-family:'Liberation Sans',sans-serif;font-style:italic;font-size:14px" textLength="61" lengthAdjust="spacingAndGlyphs">0.026913</text><text x="1769" y="632" fill="#000" stroke="#000" stroke-width="0.4" transform="translate(0 632) skewX(-6) translate(0 -632)" style="font-family:'Liberation Sans',sans-serif;font-style:italic;font-size:14px" textLength="61" lengthAdjust="spacingAndGlyphs">0.000000</text><text x="1767" y="688" fill="#000" stroke="#000" stroke-width="0.4" transform="translate(0 688) skewX(-6) translate(0 -688)" style="font-family:'Liberation Sans',sans-serif;font-style:italic;font-size:14px" textLength="69" lengthAdjust="spacingAndGlyphs">-0.023720</text></g><rect x="9" y="695" width="1757" height="1" fill="#C0C0C0"/><rect x="9" y="695" width="1" height="150" fill="#C0C0C0"/><rect x="1760" y="695" width="1" height="150" fill="#C0C0C0"/><rect x="9" y="844" width="1752" height="1" fill="#C0C0C0"/><rect x="10" y="696" width="1" height="144" fill="#FFF"/><rect x="10" y="696" width="1750" height="1" fill="#FFF"/><path d="M89.5 696V841 M271.5 696V841 M453.5 696V841 M635.5 696V841 M817.5 696V841 M999.5 696V841 M1181.5 696V841 M1363.5 696V841 M1545.5 696V841 M1727.5 696V841" stroke="#C0C0C0" stroke-dasharray="3 3" fill="none" shape-rendering="crispEdges"/><rect x="10" y="738" width="1750" height="1" fill="#C0C0C0"/><rect x="10" y="796" width="1750" height="1" fill="#C0C0C0"/><g clip-path="url(#cr)"><path d="M24.5 762.2 L37.5 763.4 L50.5 765.1 L63.5 771.8 L76.5 778.2 L89.5 774.6 L102.5 778.2 L115.5 768.2 L128.5 760.3 L141.5 765.1 L154.5 748.5 L167.5 754.5 L180.5 768.2 L193.5 769.4 L206.5 773.0 L219.5 776.5 L232.5 769.4 L245.5 772.2 L258.5 778.9 L271.5 785.6 L284.5 794.0 L297.5 794.0 L310.5 795.7 L323.5 782.5 L336.5 783.7 L349.5 787.3 L362.5 789.2 L375.5 793.3 L388.5 764.1 L401.5 765.1 L414.5 767.4 L427.5 759.8 L440.5 745.4 L453.5 739.0 L466.5 735.1 L479.5 734.2 L492.5 727.5 L505.5 726.3 L518.5 725.1 L531.5 721.5 L544.5 737.1 L557.5 755.0 L570.5 761.5 L583.5 752.6 L596.5 768.2 L609.5 770.6 L622.5 783.2 L635.5 780.1 L648.5 772.5 L661.5 770.6 L674.5 780.1 L687.5 783.7 L700.5 789.2 L713.5 786.1 L726.5 771.0 L739.5 764.6 L752.5 771.0 L765.5 765.8 L778.5 756.2 L791.5 752.1 L804.5 746.2 L817.5 747.1 L830.5 747.1 L843.5 768.2 L856.5 755.5 L869.5 761.0 L882.5 768.2 L895.5 753.8 L908.5 745.4 L921.5 749.5 L934.5 747.1 L947.5 741.8 L960.5 734.7 L973.5 729.4 L986.5 726.3 L999.5 721.5 L1012.5 718.4 L1025.5 730.4 L1038.5 731.6 L1051.5 728.7 L1064.5 726.3 L1077.5 737.1 L1090.5 744.2 L1103.5 741.4 L1116.5 754.3 L1129.5 748.5 L1142.5 746.2 L1155.5 750.7 L1168.5 737.5 L1181.5 735.9 L1194.5 744.2 L1207.5 741.4 L1220.5 761.5 L1233.5 758.1 L1246.5 751.4 L1259.5 745.4 L1272.5 738.3 L1285.5 735.9 L1298.5 728.7 L1311.5 744.2 L1324.5 751.4 L1337.5 757.4 L1350.5 765.8 L1363.5 776.5 L1376.5 792.1 L1389.5 790.2 L1402.5 801.2 L1415.5 793.3 L1428.5 792.1 L1441.5 780.1 L1454.5 781.3 L1467.5 781.3 L1480.5 785.4 L1493.5 794.5 L1506.5 801.2 L1519.5 800.0 L1532.5 795.7 L1545.5 774.1 L1558.5 777.3 L1571.5 771.0 L1584.5 765.8 L1597.5 770.6 L1610.5 764.1 L1623.5 762.2 L1636.5 774.9" fill="none" stroke="#FF0000" stroke-width="1" stroke-linejoin="round" shape-rendering="crispEdges"/><rect x="1376" y="801" width="248" height="2" fill="#A32200"/></g><text x="16" y="712" fill="#FFFFFF" stroke="#E2E2EA" stroke-width="0.6" transform="translate(0 712) skewX(-6) translate(0 -712)" style="font-family:'Liberation Sans',sans-serif;font-style:italic;font-size:14px" textLength="55" lengthAdjust="spacingAndGlyphs">RSI (10)</text><text x="122.88" y="818.9" style="font-family:'Liberation Sans',sans-serif;font-weight:bold;font-size:22.5px" textLength="38.41" lengthAdjust="spacingAndGlyphs">RSI</text><text x="166.77" y="818.9" style="font-family:'Liberation Sans',sans-serif;font-weight:bold;font-size:22.5px" textLength="45.08" lengthAdjust="spacingAndGlyphs">(10)</text><rect x="1738.5" y="699.5" width="7" height="6" fill="none" stroke="#000"/><rect x="1738" y="699" width="8" height="2" fill="#000"/><path d="M1749.5 699.5 L1756.5 705.5 M1756.5 699.5 L1749.5 705.5" stroke="#000" stroke-width="1.3"/><text x="1769.5" y="707" fill="#000" stroke="#000" stroke-width="0.4" transform="translate(0 707) skewX(-6) translate(0 -707)" style="font-family:'Liberation Sans',sans-serif;font-style:italic;font-size:14px" textLength="23" lengthAdjust="spacingAndGlyphs">100</text><text x="1769.5" y="742" fill="#000" stroke="#000" stroke-width="0.4" transform="translate(0 742) skewX(-6) translate(0 -742)" style="font-family:'Liberation Sans',sans-serif;font-style:italic;font-size:14px" textLength="16" lengthAdjust="spacingAndGlyphs">70</text><text x="1769.5" y="800" fill="#000" stroke="#000" stroke-width="0.4" transform="translate(0 800) skewX(-6) translate(0 -800)" style="font-family:'Liberation Sans',sans-serif;font-style:italic;font-size:14px" textLength="16" lengthAdjust="spacingAndGlyphs">30</text><text x="1768" y="838" fill="#000" stroke="#000" stroke-width="0.4" transform="translate(0 838) skewX(-6) translate(0 -838)" style="font-family:'Liberation Sans',sans-serif;font-style:italic;font-size:14px" textLength="9.5" lengthAdjust="spacingAndGlyphs">0</text><rect x="10" y="841" width="1750" height="3" fill="#FFFFFF"/><g fill="#BEBEBE"><rect x="50" y="841" width="66" height="3"/><rect x="180" y="841" width="66" height="3"/><rect x="310" y="841" width="66" height="3"/><rect x="440" y="841" width="66" height="3"/><rect x="570" y="841" width="66" height="3"/><rect x="700" y="841" width="66" height="3"/><rect x="830" y="841" width="66" height="3"/><rect x="960" y="841" width="66" height="3"/><rect x="1090" y="841" width="66" height="3"/><rect x="1220" y="841" width="66" height="3"/><rect x="1350" y="841" width="66" height="3"/><rect x="1480" y="841" width="66" height="3"/><rect x="1610" y="841" width="92" height="3"/></g><rect x="10" y="840" width="1756" height="1" fill="#C0C0C0"/><path d="M89.5 845V850 M271.5 845V850 M453.5 845V850 M635.5 845V850 M817.5 845V850 M999.5 845V850 M1181.5 845V850 M1363.5 845V850 M1545.5 845V850 M1727.5 845V850" stroke="#C0C0C0" stroke-dasharray="3 3" fill="none" shape-rendering="crispEdges"/><text x="90" y="862" fill="#000" stroke="#000" stroke-width="0.4" transform="translate(0 862) skewX(-6) translate(0 -862)" style="font-family:'Liberation Sans',sans-serif;font-style:italic;font-size:14px" textLength="81" lengthAdjust="spacingAndGlyphs">23 Apr 2020</text><text x="272.5" y="862" fill="#000" stroke="#000" stroke-width="0.4" transform="translate(0 862) skewX(-6) translate(0 -862)" style="font-family:'Liberation Sans',sans-serif;font-style:italic;font-size:14px" textLength="49" lengthAdjust="spacingAndGlyphs">13 May</text><text x="454" y="862" fill="#000" stroke="#000" stroke-width="0.4" transform="translate(0 862) skewX(-6) translate(0 -862)" style="font-family:'Liberation Sans',sans-serif;font-style:italic;font-size:14px" textLength="44" lengthAdjust="spacingAndGlyphs">02 Jun</text><text x="636" y="862" fill="#000" stroke="#000" stroke-width="0.4" transform="translate(0 862) skewX(-6) translate(0 -862)" style="font-family:'Liberation Sans',sans-serif;font-style:italic;font-size:14px" textLength="44" lengthAdjust="spacingAndGlyphs">22 Jun</text><text x="818.5" y="862" fill="#000" stroke="#000" stroke-width="0.4" transform="translate(0 862) skewX(-6) translate(0 -862)" style="font-family:'Liberation Sans',sans-serif;font-style:italic;font-size:14px" textLength="40" lengthAdjust="spacingAndGlyphs">10 Jul</text><text x="1000" y="862" fill="#000" stroke="#000" stroke-width="0.4" transform="translate(0 862) skewX(-6) translate(0 -862)" style="font-family:'Liberation Sans',sans-serif;font-style:italic;font-size:14px" textLength="40.5" lengthAdjust="spacingAndGlyphs">30 Jul</text><text x="1182.5" y="862" fill="#000" stroke="#000" stroke-width="0.4" transform="translate(0 862) skewX(-6) translate(0 -862)" style="font-family:'Liberation Sans',sans-serif;font-style:italic;font-size:14px" textLength="46.5" lengthAdjust="spacingAndGlyphs">19 Aug</text><text x="1364" y="862" fill="#000" stroke="#000" stroke-width="0.4" transform="translate(0 862) skewX(-6) translate(0 -862)" style="font-family:'Liberation Sans',sans-serif;font-style:italic;font-size:14px" textLength="48" lengthAdjust="spacingAndGlyphs">08 Sep</text><text x="1545.5" y="862" fill="#000" stroke="#000" stroke-width="0.4" transform="translate(0 862) skewX(-6) translate(0 -862)" style="font-family:'Liberation Sans',sans-serif;font-style:italic;font-size:14px" textLength="48.5" lengthAdjust="spacingAndGlyphs">28 Sep</text><text x="1730" y="862" fill="#000" stroke="#000" stroke-width="0.4" transform="translate(0 862) skewX(-6) translate(0 -862)" style="font-family:'Liberation Sans',sans-serif;font-style:italic;font-size:14px" textLength="43" lengthAdjust="spacingAndGlyphs">14 Oct</text><text x="1799" y="862" fill="#000" stroke="#000" stroke-width="0.4" transform="translate(0 862) skewX(-6) translate(0 -862)" style="font-family:'Liberation Sans',sans-serif;font-style:italic;font-size:14px" textLength="30" lengthAdjust="spacingAndGlyphs">[ i ]</text><rect x="1807" y="861" width="12" height="1" fill="#000"/></svg></body></html>
